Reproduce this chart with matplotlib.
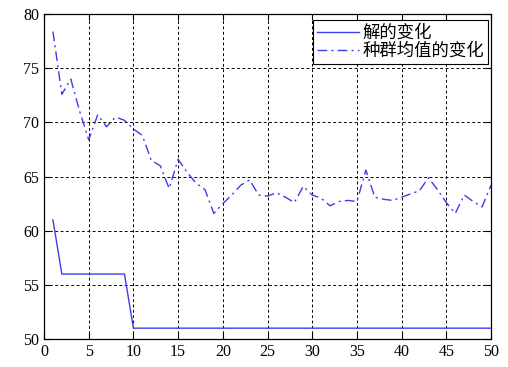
#!/usr/bin/env python3
"""
Curvas de convergencia: solución óptima y media de la población
"""
import matplotlib
matplotlib.use('Agg')
import matplotlib.pyplot as plt

# Datos
generaciones = list(range(1, 51))
solucion = [61] + [56] * 8 + [51] * 41
media_poblacion = [78.4, 72.6, 74.0, 71.0, 68.4, 70.7, 69.6, 70.5, 70.2, 69.4,
                   68.8, 66.5, 66.0, 63.9, 66.6, 65.4, 64.4, 63.8, 61.6, 62.5,
                   63.3, 64.2, 64.7, 63.3, 63.2, 63.5, 63.1, 62.6, 64.1, 63.3,
                   63.0, 62.3, 62.7, 62.8, 62.7, 65.6, 63.1, 62.9, 62.8, 63.1,
                   63.4, 63.7, 64.9, 63.8, 62.6, 61.6, 63.3, 62.7, 62.2, 64.2]

etiquetas = ['解的变化', '种群均值的变化']
color = '#3c3cf0'

plt.rcParams['font.family'] = ['Liberation Serif', 'Noto Sans CJK SC']

fig = plt.figure(figsize=(5.08, 3.67), dpi=100)
ax = fig.add_axes([0.0866, 0.0763, 0.88, 0.885])

ax.plot(generaciones, solucion, '-', color=color, linewidth=1.0, label=etiquetas[0])
ax.plot(generaciones, media_poblacion, color=color, linewidth=1.0,
        linestyle=(0, (7, 3, 1.5, 3)), label=etiquetas[1])

ax.set_xlim(0, 50)
ax.set_ylim(50, 80)
ax.set_xticks(range(0, 51, 5))
ax.set_yticks(range(50, 81, 5))
ax.tick_params(direction='in', top=True, right=True, labelsize=11.5, length=4)

ax.grid(True, color='black', linestyle=(0, (3, 2.5)), linewidth=0.7)
for s in ax.spines.values():
    s.set_linewidth(0.9)

leg = ax.legend(loc='upper right', bbox_to_anchor=(0.994, 0.982),
                prop={'family': ['Noto Sans CJK SC'], 'size': 12.5},
                fancybox=False, edgecolor='black', framealpha=1,
                borderpad=0.22, labelspacing=0.0, handlelength=2.4,
                handletextpad=0.25, borderaxespad=0)
leg.get_frame().set_linewidth(0.8)

plt.savefig('out.png', dpi=100)
plt.close()
